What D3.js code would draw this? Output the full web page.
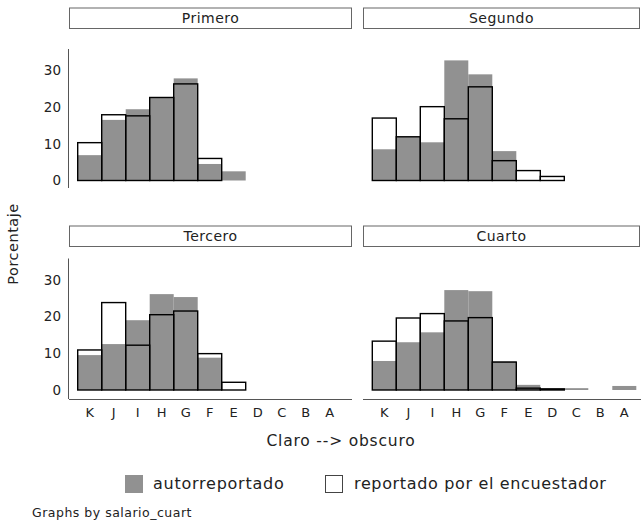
<!DOCTYPE html>
<html><head><meta charset="utf-8">
<script src="https://cdn.jsdelivr.net/npm/d3@7"></script>
<style>body{margin:0;background:#fff;} text{font-family:"DejaVu Sans",sans-serif;fill:#222;}</style>
</head><body>
<svg id="c" width="641" height="523"></svg>
<script>
const categories = ["K","J","I","H","G","F","E","D","C","B","A"];
const panels = ["Primero","Segundo","Tercero","Cuarto"];
const yTicks = [0,10,20,30];
// autorreportado (gray filled)
const autoPrimero = [6.9,16.5,19.4,22.6,27.8,4.5,2.5,0,0,0,0];
const autoSegundo = [8.5,11.9,10.4,32.7,28.9,8.0,0,0,0,0,0];
const autoTercero = [9.5,12.5,19.0,26.1,25.3,8.8,0,0,0,0,0];
const autoCuarto  = [7.9,13.0,15.7,27.2,26.9,7.8,1.4,0.5,0.5,0,1.1];
// reportado por el encuestador (outline)
const encPrimero = [10.3,17.9,17.6,22.6,26.3,6.0,0,0,0,0,0];
const encSegundo = [17.0,11.9,20.1,16.8,25.5,5.4,2.7,1.1,0,0,0];
const encTercero = [10.9,23.8,12.2,20.5,21.5,9.9,2.1,0,0,0,0];
const encCuarto  = [13.3,19.6,20.8,18.8,19.7,7.6,0.5,0.3,0,0,0];
const autoVals = [autoPrimero,autoSegundo,autoTercero,autoCuarto];
const encVals = [encPrimero,encSegundo,encTercero,encCuarto];

const svg = d3.select("#c");
const gray = "#919191";
const layout = [
  {col:0,row:0},{col:1,row:0},{col:0,row:1},{col:1,row:1}
];
const colX = [{x0:69,x1:352,b0:77.7,b1:341.7},{x0:363,x1:641,b0:372.3,b1:636.3}];
const rowY = [{zero:180.5,top:49,strip:7.5,bot:188},{zero:390,top:258.5,strip:225.5,bot:399}];

panels.forEach((name,i)=>{
  const L = layout[i], cx = colX[L.col], ry = rowY[L.row];
  const x = d3.scaleBand().domain(categories).range([cx.b0,cx.b1]).padding(0);
  const y = d3.scaleLinear().domain([0,30]).range([ry.zero, ry.zero-110.2]);
  const g = svg.append("g");
  // strip
  g.append("rect").attr("x",cx.x0+0.5).attr("y",ry.strip+0.5).attr("width",(L.col?640:352)-cx.x0-1).attr("height",20.5)
    .attr("fill","#fff").attr("stroke","#666").attr("stroke-width",1);
  g.append("text").attr("x",(cx.x0+(L.col?640:352))/2).attr("y",ry.strip+15.5).attr("text-anchor","middle")
    .attr("font-size",14).attr("letter-spacing",0.5).text(name);
  // gray bars
  const a = categories.map((c,j)=>({c,v:autoVals[i][j]})).filter(d=>d.v>0);
  g.selectAll(".a").data(a).join("rect").attr("x",d=>x(d.c)).attr("width",x.bandwidth())
    .attr("y",d=>y(d.v)).attr("height",d=>y(0)-y(d.v)).attr("fill",gray);
  const e = categories.map((c,j)=>({c,v:encVals[i][j]})).filter(d=>d.v>0);
  g.selectAll(".e").data(e).join("rect").attr("x",d=>x(d.c)).attr("width",x.bandwidth())
    .attr("y",d=>y(d.v)).attr("height",d=>y(0)-y(d.v)).attr("fill","none").attr("stroke","#000").attr("stroke-width",1.4);
  // y axis (left column only)
  if(L.col===0){
    g.append("line").attr("x1",68.5).attr("x2",68.5).attr("y1",ry.top).attr("y2",ry.bot).attr("stroke","#555").attr("stroke-width",1);
    const ax = d3.axisLeft(y).tickValues(yTicks).tickSize(0).tickPadding(8);
    const ag = g.append("g").attr("transform","translate(69,0)").call(ax);
    ag.select(".domain").remove();
    ag.selectAll("text").attr("font-size",13.5).attr("font-family","DejaVu Sans").attr("fill","#222");
  }
  if(L.row===1){
    g.append("line").attr("x1",cx.x0).attr("x2",cx.x1).attr("y1",399.5).attr("y2",399.5).attr("stroke","#555").attr("stroke-width",1);
    const ax = d3.axisBottom(x).tickSize(0).tickPadding(8);
    const ag = g.append("g").attr("transform","translate(0,400)").call(ax);
    ag.select(".domain").remove();
    ag.selectAll("text").attr("font-size",13).attr("font-family","DejaVu Sans").attr("fill","#222");
  }
});

svg.append("text").attr("x",341).attr("y",446).attr("text-anchor","middle").attr("font-size",15.5).attr("letter-spacing",0.8).text("Claro --> obscuro");
svg.append("text").attr("transform","translate(18,244) rotate(-90)").attr("text-anchor","middle").attr("font-size",14.5).attr("letter-spacing",0.5).text("Porcentaje");
// legend
svg.append("rect").attr("x",125).attr("y",475).attr("width",18).attr("height",18).attr("fill",gray);
svg.append("text").attr("x",153).attr("y",489).attr("font-size",16).attr("letter-spacing",0.75).text("autorreportado");
svg.append("rect").attr("x",325.5).attr("y",475.5).attr("width",17).attr("height",17).attr("fill","#fff").attr("stroke","#444").attr("stroke-width",1);
svg.append("text").attr("x",354).attr("y",489).attr("font-size",16).attr("letter-spacing",0.65).text("reportado por el encuestador");
svg.append("text").attr("x",32).attr("y",517).attr("font-size",12.5).attr("letter-spacing",0.5).text("Graphs by salario_cuart");
</script>
</body></html>
